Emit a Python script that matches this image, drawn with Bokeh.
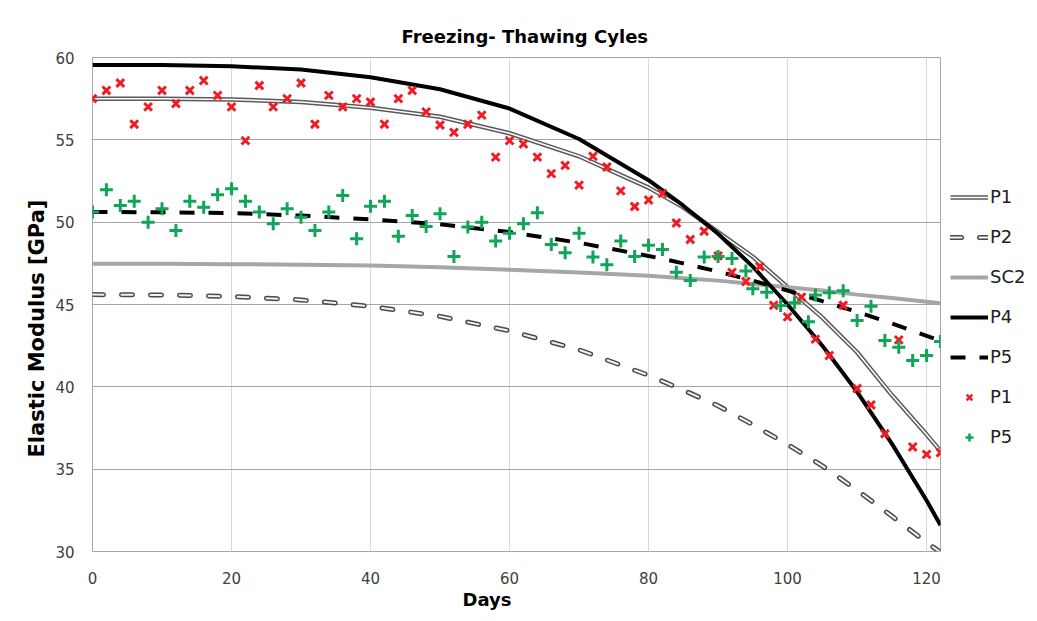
from bokeh.plotting import figure
from bokeh.layouts import row
from bokeh.models import Legend, LegendItem, Range1d, FixedTicker, Title
from bokeh.embed import file_html
from bokeh.resources import INLINE

# ---- data ----
days_curve = [0, 10, 20, 30, 40, 50, 60, 70, 80, 85, 90, 95, 100, 105, 110, 115, 120, 122]
p1_fit = [57.5, 57.49, 57.45, 57.3, 56.95, 56.4, 55.4, 54.0, 52.1, 50.9, 49.4, 47.9, 46.05, 44.2, 42.1, 39.5, 37.1, 36.1]
p2_fit = [45.6, 45.58, 45.49, 45.28, 44.89, 44.28, 43.4, 42.25, 40.7, 39.8, 38.85, 37.7, 36.5, 35.2, 33.72, 32.15, 30.55, 29.95]
sc2_fit = [47.48, 47.47, 47.45, 47.42, 47.37, 47.26, 47.11, 46.95, 46.74, 46.6, 46.45, 46.25, 46.05, 45.85, 45.6, 45.4, 45.17, 45.08]
p4_fit = [59.55, 59.54, 59.47, 59.27, 58.8, 58.07, 56.9, 55.05, 52.55, 51.0, 49.3, 47.3, 45.0, 42.5, 39.7, 36.55, 33.1, 31.6]
p5_fit = [50.62, 50.6, 50.55, 50.4, 50.17, 49.87, 49.4, 48.75, 47.95, 47.5, 47.0, 46.45, 45.85, 45.2, 44.55, 43.85, 43.1, 42.8]

days_p1 = list(range(0, 123, 2))
p1_data = [57.5, 58.0, 58.45, 55.95, 57.0, 58.0, 57.2, 58.0, 58.6, 57.7,
           57.0, 54.95, 58.3, 57.0, 57.5, 58.45, 55.95, 57.7, 57.0, 57.5,
           57.3, 55.95, 57.5, 58.0, 56.7, 55.9, 55.45, 55.95, 56.5, 53.95,
           54.95, 54.75, 53.95, 52.95, 53.45, 52.25, 54.0, 53.35, 51.9, 50.95,
           51.35, 51.75, 49.95, 48.95, 49.45, 47.95, 46.95, 46.4, 47.3, 44.95,
           44.25, 45.45, 42.9, 41.9, 44.95, 39.9, 38.9, 37.15, 42.85, 36.35,
           35.9, 36.0]

days_p5 = list(range(0, 95, 2)) + [95, 97, 99, 101, 103] + list(range(104, 123, 2))
p5_data = [50.61, 51.97, 51.01, 51.27, 50.0, 50.81, 49.5, 51.27, 50.91, 51.66,
           52.03, 51.27, 50.61, 49.9, 50.81, 50.3, 49.5, 50.61, 51.62, 48.99,
           50.97, 51.27, 49.15, 50.41, 49.74, 50.51, 47.92, 49.7, 50.0, 48.85,
           49.33, 49.9, 50.57, 48.65, 48.14, 49.33, 47.88, 47.41, 48.85, 47.92,
           48.6, 48.34, 46.96, 46.46, 47.88, 47.92, 47.8, 47.03,
           45.96, 45.75, 44.94, 45.1, 43.96,
           45.57, 45.72, 45.83, 44.03, 44.9, 42.82, 42.41, 41.6, 41.9, 42.76]

x_ticks = [0, 20, 40, 60, 80, 100, 120]
y_ticks = [30, 35, 40, 45, 50, 55, 60]
legend_labels = ["P1", "P2", "SC2", "P4", "P5", "P1", "P5"]

RED = "#ee1c25"
GREEN = "#12a457"
FONT = "DejaVu Sans"

# line / marker styles (shared by plot and legend)
P1_OUT = dict(line_color="#5a5a5a", line_width=4.5)
P1_IN = dict(line_color="white", line_width=1.5)
P2_OUT = dict(line_color="#4a4a4a", line_width=5, line_dash="11 18", line_cap="round")
P2_IN = dict(line_color="#f2f2f2", line_width=2, line_dash="11 18", line_cap="round")
SC2_ST = dict(line_color="#a6a6a6", line_width=4)
P4_ST = dict(line_color="black", line_width=4)
P5_ST = dict(line_color="black", line_width=4, line_dash="15 14")
S1_ST = dict(marker="x", size=11, line_width=3, line_color=RED)
S5_ST = dict(marker="cross", size=13, line_width=3, line_color=GREEN)

p = figure(width=942, height=621, output_backend="svg", toolbar_location=None,
           x_range=Range1d(0, 122), y_range=Range1d(30, 60),
           min_border_left=92, min_border_right=2, min_border_top=57, min_border_bottom=70)
p.background_fill_color = "white"
p.border_fill_color = "white"
p.outline_line_color = "#a6a6a6"
p.outline_line_width = 1

p.title.text = "Freezing- Thawing Cyles"
p.title.align = "left"
p.title.offset = 309
p.title.standoff = 22
p.title.text_font = FONT
p.title.text_font_style = "bold"
p.title.text_font_size = "18px"
p.title.text_color = "black"

p.xaxis.ticker = FixedTicker(ticks=x_ticks)
p.yaxis.ticker = FixedTicker(ticks=y_ticks)
for ax in (p.xaxis, p.yaxis):
    ax.axis_line_color = None
    ax.major_tick_line_color = None
    ax.minor_tick_line_color = None
    ax.major_tick_out = 0
    ax.major_tick_in = 0
    ax.minor_tick_out = 0
    ax.minor_tick_in = 0
    ax.major_label_text_font = FONT
    ax.major_label_text_font_size = "15px"
    ax.major_label_text_color = "#404040"
p.xaxis.major_label_standoff = 20
p.yaxis.major_label_standoff = 18

p.ygrid.grid_line_color = "#a6a6a6"
p.xgrid.grid_line_color = "#d9d9d9"

p.add_layout(Title(text="Days", align="left", offset=370, text_font=FONT, text_font_style="bold",
                   text_font_size="18px", text_color="black", standoff=0), "below")
p.add_layout(Title(text="Elastic Modulus [GPa]", align="left", offset=94, text_font=FONT,
                   text_font_style="bold", text_font_size="21px", text_color="black", standoff=8), "left")

# fitted curves
p.line(days_curve, p1_fit, **P1_OUT)
p.line(days_curve, p1_fit, **P1_IN)
p.line(days_curve, p2_fit, **P2_OUT)
p.line(days_curve, p2_fit, **P2_IN)
p.line(days_curve, sc2_fit, **SC2_ST)
p.line(days_curve, p4_fit, **P4_ST)
p.line(days_curve, p5_fit, **P5_ST)

# measured points
p.scatter(days_p1, p1_data, **S1_ST)
p.scatter(days_p5, p5_data, **S5_ST)

# ---- legend panel (separate narrow figure to the right of the plot area) ----
# The same series are drawn here, but its view range (0..1) keeps them out of sight;
# they only serve as the legend's glyph sources.
lg = figure(width=95, height=621, output_backend="svg", toolbar_location=None,
            x_range=Range1d(0, 1), y_range=Range1d(0, 1),
            x_axis_location=None, y_axis_location=None,
            min_border_left=0, min_border_right=0, min_border_top=0, min_border_bottom=0)
lg.outline_line_color = None
lg.xgrid.visible = False
lg.ygrid.visible = False
lg.background_fill_color = "white"
lg.border_fill_color = "white"

r_p1 = [lg.line(days_curve, p1_fit, **P1_OUT), lg.line(days_curve, p1_fit, **P1_IN)]
r_p2 = [lg.line(days_curve, p2_fit, **P2_OUT), lg.line(days_curve, p2_fit, **P2_IN)]
r_sc2 = [lg.line(days_curve, sc2_fit, **SC2_ST)]
r_p4 = [lg.line(days_curve, p4_fit, **P4_ST)]
r_p5 = [lg.line(days_curve, p5_fit, **P5_ST)]
r_s1 = [lg.scatter(days_p1, p1_data, **dict(S1_ST, size=8, line_width=2.5))]
r_s5 = [lg.scatter(days_p5, p5_data, **dict(S5_ST, size=10, line_width=2.5))]
groups = [r_p1, r_p2, r_sc2, r_p4, r_p5, r_s1, r_s5]

legend = Legend(items=[LegendItem(label=lab, renderers=rs) for lab, rs in zip(legend_labels, groups)],
                location=(8, 104), orientation="vertical", padding=0, margin=0, spacing=19,
                glyph_width=38, glyph_height=20, label_height=20, label_standoff=2,
                label_text_font=FONT, label_text_font_size="18px", label_text_color="#202020",
                border_line_color=None, background_fill_alpha=0)
lg.add_layout(legend)

layout = row(p, lg, spacing=0)
open("out.html", "w").write(file_html(layout, INLINE))
